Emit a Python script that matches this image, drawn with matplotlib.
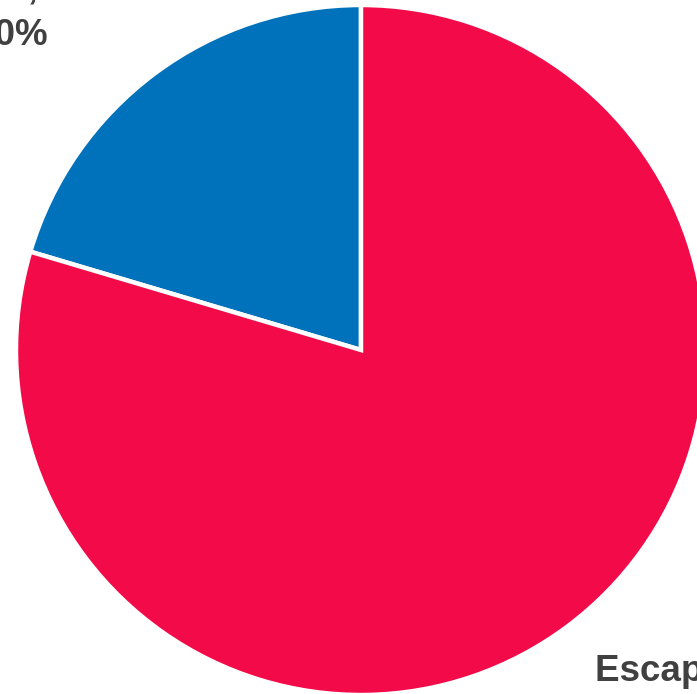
import matplotlib
matplotlib.use("Agg")
import matplotlib.pyplot as plt

# Share of outcomes
categories = ["Caught", "Escaped"]
values = [20.4, 79.6]
colors = ["#0072BC", "#F20A49"]

TEXT_COLOR = "#404040"
FONT = ["Liberation Sans", "DejaVu Sans"]

fig = plt.figure(figsize=(6.97, 6.94), dpi=100)
ax = fig.add_axes([0, 0, 1, 1])

wedges, _ = ax.pie(
    values,
    colors=colors,
    startangle=90,
    counterclock=True,
    center=(361, 344),
    radius=345,
    frame=True,
    wedgeprops=dict(edgecolor="white", linewidth=3.2),
)

ax.set_xlim(0, 697)
ax.set_ylim(0, 694)
ax.set_aspect("equal")
ax.axis("off")

total = sum(values)
labels = [f"{c}, \n{v / total * 100:.0f}%" for c, v in zip(categories, values)]

# label for the smaller slice sits at upper left, the larger at lower right
ax.text(48, 641, labels[0], ha="right", va="bottom", multialignment="right",
        fontsize=26.5, fontweight="bold", color=TEXT_COLOR, family=FONT,
        linespacing=1.42)
ax.text(595, 40, labels[1], ha="left", va="top", multialignment="left",
        fontsize=26.5, fontweight="bold", color=TEXT_COLOR, family=FONT,
        linespacing=1.42)

fig.savefig("out.png", dpi=100)
